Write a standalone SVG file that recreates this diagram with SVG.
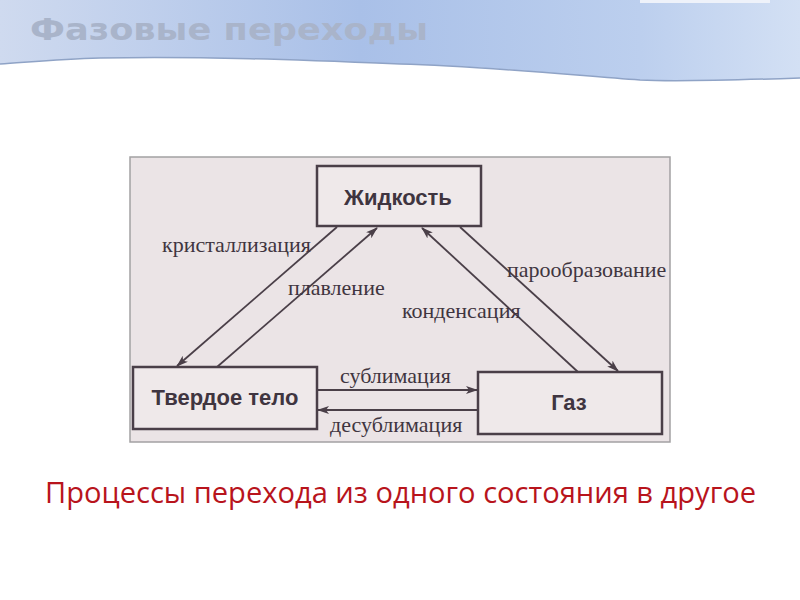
<svg xmlns="http://www.w3.org/2000/svg" width="800" height="600" viewBox="0 0 800 600">
<defs>
<linearGradient id="band" x1="0" y1="0" x2="1" y2="0">
<stop offset="0" stop-color="#cfdaef"/>
<stop offset="0.45" stop-color="#a9c0e8"/>
<stop offset="0.8" stop-color="#bccfee"/>
<stop offset="1" stop-color="#d3e0f4"/>
</linearGradient>
<marker id="ah" viewBox="0 0 12 8" refX="11" refY="4" markerWidth="12" markerHeight="8" markerUnits="userSpaceOnUse" orient="auto">
<path d="M0,0 L12,4 L0,8 L3,4 Z" fill="#4a3f48"/>
</marker>
</defs>
<style>
.node rect{fill:#efe9ea;stroke:#4a3f48;stroke-width:2.5}
.node text{font-family:"Liberation Sans",Arial,sans-serif;font-weight:bold;font-size:22px;fill:#3f3540;text-anchor:middle}
.conn line{stroke:#4a3f48;stroke-width:1.8;marker-end:url(#ah)}
.lbl{font-family:"Liberation Serif","Times New Roman",serif;font-size:22px;fill:#3f3540}
</style>
<rect width="800" height="600" fill="#ffffff"/>
<path d="M0,0 H800 V78 C740,80 680,82 640,80 C560,74 480,66 400,64 C300,60 200,56 100,58 C60,59 30,62 0,64 Z" fill="url(#band)"/>
<path d="M0,64 C30,62 60,59 100,58 C200,56 300,60 400,64 C480,66 560,74 640,80 C680,82 740,80 800,78" fill="none" stroke="#8fa3c6" stroke-width="1.5"/>
<rect x="640" y="0" width="130" height="3" fill="#eef2fa"/>
<text x="30" y="40" font-family="'DejaVu Sans',sans-serif" font-weight="bold" font-size="30" textLength="398" lengthAdjust="spacingAndGlyphs" fill="#a9b4ca">Фазовые переходы</text>
<rect x="130" y="157" width="540" height="285" fill="#ebe4e6" stroke="#a3a1a3" stroke-width="1.5"/>
<g id="node-liquid" class="node"><rect x="317" y="166" width="164" height="60"/><text x="398" y="205">Жидкость</text></g>
<g id="node-solid" class="node"><rect x="133" y="367" width="184" height="62"/><text x="225" y="405">Твердое тело</text></g>
<g id="node-gas" class="node"><rect x="478" y="372" width="184" height="62"/><text x="569" y="410">Газ</text></g>
<g id="connectors" class="conn">
<line x1="337" y1="227" x2="177" y2="366"/>
<line x1="217" y1="367" x2="377" y2="228"/>
<line x1="578" y1="372" x2="422" y2="228"/>
<line x1="460" y1="227" x2="618" y2="371"/>
<line x1="317" y1="390" x2="477" y2="390"/>
<line x1="478" y1="410" x2="318" y2="410"/>
</g>
<g id="labels">
<text class="lbl" x="162" y="252">кристаллизация</text>
<text class="lbl" x="288" y="295">плавление</text>
<text class="lbl" x="507" y="277">парообразование</text>
<text class="lbl" x="402" y="318">конденсация</text>
<text class="lbl" x="340" y="383">сублимация</text>
<text class="lbl" x="330" y="432">десублимация</text>
</g>
<text x="45" y="503" font-family="'Open Sans','DejaVu Sans',sans-serif" font-size="30" textLength="711" lengthAdjust="spacingAndGlyphs" fill="#b8141c">Процессы перехода из одного состояния в другое</text>
</svg>
